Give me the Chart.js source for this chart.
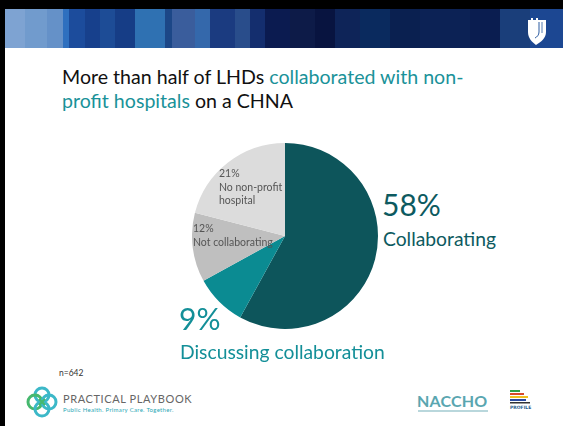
<!DOCTYPE html>
<html>
<head>
    <meta charset="utf-8">
    <title>LHD collaboration with non-profit hospitals</title>
    <style>
        body {
            margin: 0;
            width: 563px;
            height: 426px;
            overflow: hidden;
            background: #fff;
            font-family: Lato, "Open Sans", sans-serif;
            position: relative;
        }
        .frame-top { position: absolute; left: 0; top: 0; width: 563px; height: 9px; background: #000; }
        .frame-left { position: absolute; left: 0; top: 0; width: 5px; height: 426px; background: #000; }
        .banner {
            position: absolute; left: 5px; top: 9px; width: 558px; height: 39px;
            background: linear-gradient(to right,
                #7ea3d2 0px, #7ea3d2 20px, #719bcd 20px, #719bcd 42px, #6591c8 42px, #6591c8 58px,
                #2f70bf 58px, #2f70bf 64px, #1c4c9c 64px, #1c4c9c 80px, #17408c 80px, #17408c 95px,
                #1d4c96 95px, #1d4c96 110px, #163d86 110px, #163d86 130px, #2f71b2 130px, #2f71b2 160px,
                #1c4787 160px, #1c4787 167px, #3a5d9c 167px, #3a5d9c 190px, #3468ab 190px, #3468ab 205px,
                #1b3b80 205px, #1b3b80 230px, #294d8b 230px, #294d8b 245px, #142e6e 245px, #142e6e 260px,
                #0b1b50 260px, #0b1b50 285px, #0d1b48 285px, #0d1b48 310px, #081440 310px, #081440 330px,
                #0e2458 330px, #0e2458 355px, #0a2a5e 355px, #0a2a5e 385px, #0a2050 385px, #0a2050 415px,
                #0c2255 415px, #0c2255 465px, #0a1d50 465px, #0a1d50 495px, #1a3e7a 495px, #1a3e7a 525px,
                #1c4792 525px);
        }
        .duke { position: absolute; left: 527px; top: 18px; }
        .title {
            position: absolute; left: 62px; top: 65px;
            font-size: 19.6px; line-height: 24px; color: #111;
        }
        .title .hl { color: #1a9299; }
        .chart-box { position: absolute; left: 192px; top: 143px; width: 186px; height: 186px; }
        .big { position: absolute; font-size: 30px; line-height: 31px; }
        .sub { position: absolute; font-size: 19.3px; line-height: 20px; }
        .inner { position: absolute; font-size: 10.5px; line-height: 13.5px; color: #555; }
        .note { position: absolute; left: 59px; top: 368px; font-size: 8.5px; color: #333; }
        .pp-name { position: absolute; left: 63px; top: 392px; font-size: 11px; letter-spacing: 0.6px; color: #666; }
        .pp-tag { position: absolute; left: 63px; top: 406px; font-size: 6px; color: #2aa7b5; letter-spacing: 0.3px; }
        .naccho { position: absolute; left: 417px; top: 391px; font-size: 16px; font-weight: bold; color: #5aa6b0; letter-spacing: 0.2px; }
        .naccho-line { position: absolute; left: 418px; top: 410px; width: 70px; height: 2px; background: #b9d7dc; }
    </style>
</head>
<body>
    <div class="frame-top"></div>
    <div class="frame-left"></div>
    <div class="banner"></div>
    <svg class="duke" width="20" height="28" viewBox="0 0 20 28">
        <path d="M1 2 L4 2 L4 0 L6 0 L6 2 L9 2 L9 0 L11 0 L11 2 L19 2 L19 14 C19 20 14 24 9 27 C5 24 1 20 1 14 Z" fill="#fff"/>
        <path d="M12 4 L12 14 C12 17 10 19 8 20" stroke="#2a5aa0" stroke-width="1" fill="none"/>
        <path d="M15 4 L15 15" stroke="#2a5aa0" stroke-width="0.8" fill="none"/>
    </svg>

    <div class="title">More than half of LHDs <span class="hl">collaborated with non-</span><br><span class="hl">profit hospitals</span> on a CHNA</div>

    <div class="chart-box"><canvas id="chart"></canvas></div>

    <div id="labels"></div>

    <div class="note">n=642</div>

    <svg style="position:absolute; left:26px; top:386px;" width="32" height="32" viewBox="0 0 32 32">
        <circle cx="16" cy="9" r="7" fill="none" stroke="#3cb8c8" stroke-width="3"/>
        <circle cx="9" cy="16" r="7" fill="none" stroke="#46b86e" stroke-width="3"/>
        <circle cx="23" cy="16" r="7" fill="none" stroke="#3cb8c8" stroke-width="3"/>
        <circle cx="16" cy="23" r="7" fill="none" stroke="#3cb8c8" stroke-width="3"/>
        <path d="M13 13 L19 19 M19 13 L13 19" stroke="#46b86e" stroke-width="2"/>
    </svg>
    <div class="pp-name">PRACTICAL PLAYBOOK</div>
    <div class="pp-tag">Public Health. Primary Care. Together.</div>

    <div class="naccho">NACCHO</div>
    <div class="naccho-line"></div>

    <svg style="position:absolute; left:508px; top:388px;" width="30" height="24" viewBox="0 0 30 24">
        <rect x="2" y="2" width="10" height="2" fill="#2f9e48"/>
        <rect x="2" y="5" width="14" height="2" fill="#d84a2a"/>
        <rect x="2" y="8" width="18" height="2" fill="#f0c020"/>
        <rect x="2" y="11" width="16" height="2" fill="#2a4aa0"/>
        <rect x="2" y="14" width="20" height="1.5" fill="#333"/>
        <text x="2" y="21" font-size="4.5" font-weight="bold" fill="#2a6090" font-family="DejaVu Sans">PROFILE</text>
    </svg>

    <script src="https://cdn.jsdelivr.net/npm/chart.js"></script>
    <script>
        // slices go clockwise from 12 o'clock
        const categories = ['Collaborating', 'Discussing collaboration', 'Not collaborating', 'No non-profit hospital'];
        const shares = [58, 9, 12, 21];
        const sliceColors = ['#0d555b', '#0b8b92', '#bfbfbf', '#dcdcdc'];

        // text next to each slice (html, placed by hand like the slide)
        const labelSpots = [
            { big: true, x: 382, y: 189, subY: 229, color: '#0d5a60', subColor: '#0d5a60' },
            { big: true, x: 179, y: 303, subY: 342, color: '#138f98', subColor: '#138f98' },
            { big: false, x: 193, y: 222, lines: ['Not collaborating'] },
            { big: false, x: 219, y: 167, lines: ['No non-profit', 'hospital'] }
        ];

        const labelsDiv = document.getElementById('labels');
        labelSpots.forEach(function (s, i) {
            if (s.big) {
                const pct = document.createElement('div');
                pct.className = 'big';
                pct.style.left = s.x + 'px';
                pct.style.top = s.y + 'px';
                pct.style.color = s.color;
                pct.textContent = shares[i] + '%';
                labelsDiv.appendChild(pct);

                const name = document.createElement('div');
                name.className = 'sub';
                name.style.left = (s.x + 1) + 'px';
                name.style.top = s.subY + 'px';
                name.style.color = s.subColor;
                name.textContent = categories[i];
                labelsDiv.appendChild(name);
            } else {
                const d = document.createElement('div');
                d.className = 'inner';
                d.style.left = s.x + 'px';
                d.style.top = s.y + 'px';
                d.innerHTML = shares[i] + '%<br>' + s.lines.join('<br>');
                labelsDiv.appendChild(d);
            }
        });

        const ctx = document.getElementById('chart').getContext('2d');
        const chart = new Chart(ctx, {
            type: 'pie',
            data: {
                labels: categories,
                datasets: [{
                    data: shares,
                    backgroundColor: sliceColors,
                    borderWidth: 0
                }]
            },
            options: {
                responsive: true,
                maintainAspectRatio: false,
                animation: false,
                layout: { padding: 0 },
                plugins: {
                    legend: { display: false },
                    tooltip: { enabled: false }
                }
            }
        });
    </script>
</body>
</html>
